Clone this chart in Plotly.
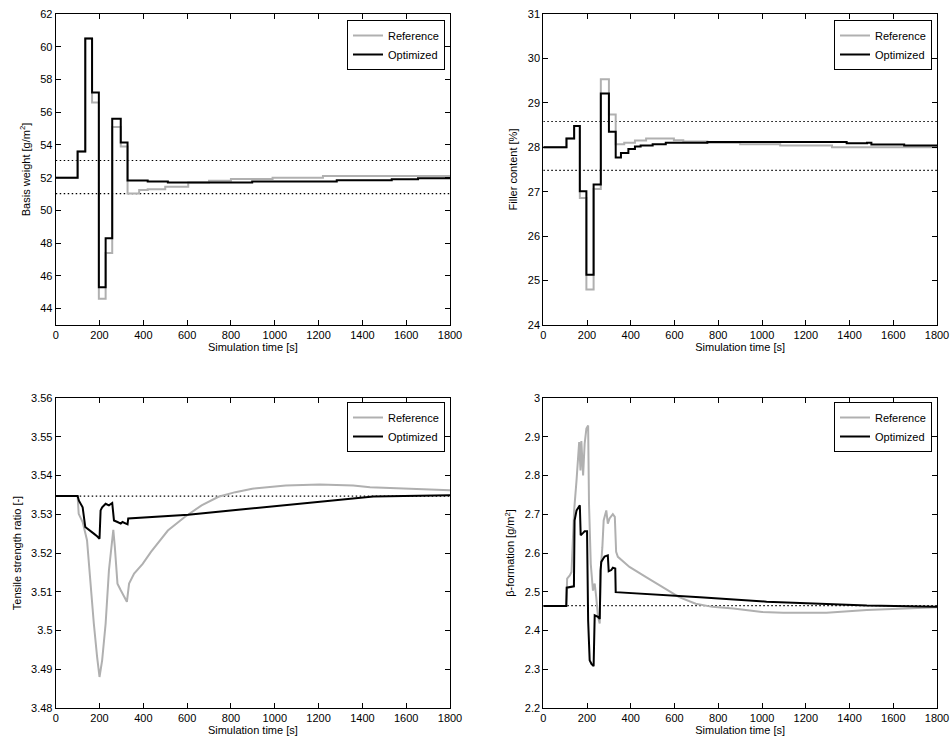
import plotly.graph_objects as go

# ---------------- DATA ----------------
x_ticks = [0, 200, 400, 600, 800, 1000, 1200, 1400, 1600, 1800]

# Basis weight (step signals)
bw_ref_t = [0, 100, 135, 166, 197, 228, 258, 297, 328, 381, 420, 500, 605, 700, 800, 990, 1220, 1800]
bw_ref_v = [52.0, 53.6, 60.5, 56.6, 44.6, 47.4, 55.1, 53.9, 51.03, 51.24, 51.3, 51.45, 51.7, 51.82, 51.92, 52.0, 52.1, 52.12]
bw_opt_t = [0, 100, 135, 166, 197, 228, 258, 297, 328, 420, 512, 897, 1283, 1534, 1654, 1800]
bw_opt_v = [52.0, 53.6, 60.5, 57.2, 45.3, 48.3, 55.6, 54.15, 51.83, 51.76, 51.7, 51.76, 51.84, 51.9, 51.96, 51.96]
bw_limits = [53.05, 51.03]
bw_ticks = [44, 46, 48, 50, 52, 54, 56, 58, 60, 62]

# Filler content (step signals)
fc_ref_t = [0, 106, 141, 167, 197, 230, 263, 300, 331, 370, 419, 470, 546, 597, 640, 750, 900, 1083, 1320, 1800]
fc_ref_v = [28.0, 28.2, 28.48, 26.86, 24.8, 27.06, 29.53, 28.74, 28.07, 28.1, 28.15, 28.2, 28.2, 28.16, 28.13, 28.1, 28.07, 28.04, 28.0, 28.0]
fc_opt_t = [0, 106, 141, 167, 197, 230, 263, 300, 331, 355, 389, 419, 445, 500, 560, 750, 1083, 1387, 1480, 1500, 1650, 1800]
fc_opt_v = [28.0, 28.2, 28.48, 27.01, 25.13, 27.16, 29.21, 28.35, 27.77, 27.87, 27.96, 28.02, 28.04, 28.07, 28.1, 28.12, 28.12, 28.09, 28.1, 28.06, 28.04, 28.04]
fc_limits = [28.58, 27.48]
fc_ticks = [24, 25, 26, 27, 28, 29, 30, 31]

# Tensile strength ratio
ts_ref_t = [0, 100, 105, 123, 143, 158, 174, 189, 200, 212, 228, 243, 254, 263, 270, 282, 297, 312, 325, 335, 358, 397, 435, 512, 589, 666, 743, 820, 897, 1050, 1205, 1358, 1435, 1800]
ts_ref_v = [3.5347, 3.5347, 3.5301, 3.528, 3.5233, 3.5121, 3.5018, 3.4932, 3.488, 3.4923, 3.5018, 3.5155, 3.5224, 3.526, 3.5215, 3.5121, 3.5104, 3.5086, 3.5074, 3.5121, 3.5147, 3.5172, 3.5203, 3.5258, 3.5293, 3.5323, 3.5345, 3.5357, 3.5366, 3.5374, 3.5377, 3.5374, 3.537, 3.5362]
ts_opt_t = [0, 100, 106, 123, 135, 158, 174, 189, 200, 205, 212, 228, 243, 258, 266, 282, 297, 305, 328, 331, 605, 1450, 1800]
ts_opt_v = [3.5347, 3.5347, 3.5335, 3.5318, 3.5267, 3.5258, 3.525, 3.5243, 3.5237, 3.531, 3.5318, 3.5327, 3.5323, 3.5329, 3.5284, 3.528, 3.5276, 3.528, 3.5274, 3.5289, 3.5299, 3.5346, 3.5349]
ts_limits = [3.5347]
ts_ticks = [3.48, 3.49, 3.50, 3.51, 3.52, 3.53, 3.54, 3.55, 3.56]
ts_ticktext = ["3.48", "3.49", "3.5", "3.51", "3.52", "3.53", "3.54", "3.55", "3.56"]

# beta-formation
bf_ref_t = [0, 105, 109, 121, 129, 141, 152, 164, 170, 174, 182, 189, 197, 205, 209, 217, 227, 235, 242, 250, 258, 262, 270, 276, 288, 295, 303, 318, 327, 333, 341, 394, 470, 545, 621, 697, 773, 869, 1000, 1097, 1295, 1479, 1800]
bf_ref_v = [2.463, 2.463, 2.534, 2.542, 2.551, 2.71, 2.788, 2.886, 2.813, 2.889, 2.8, 2.882, 2.921, 2.929, 2.727, 2.572, 2.503, 2.521, 2.486, 2.435, 2.418, 2.555, 2.615, 2.684, 2.71, 2.676, 2.689, 2.7, 2.693, 2.603, 2.59, 2.564, 2.538, 2.512, 2.486, 2.469, 2.461, 2.457, 2.448, 2.446, 2.446, 2.453, 2.46]
bf_opt_t = [0, 105, 107, 129, 140, 143, 152, 167, 171, 182, 189, 200, 205, 212, 220, 230, 235, 250, 258, 262, 265, 280, 295, 299, 311, 318, 329, 331, 394, 606, 716, 1021, 1152, 1325, 1479, 1800]
bf_opt_v = [2.463, 2.463, 2.5105, 2.512, 2.514, 2.684, 2.71, 2.723, 2.646, 2.652, 2.656, 2.656, 2.426, 2.323, 2.314, 2.308, 2.439, 2.435, 2.43, 2.555, 2.577, 2.591, 2.594, 2.553, 2.556, 2.562, 2.56, 2.499, 2.497, 2.489, 2.4857, 2.4744, 2.472, 2.467, 2.4644, 2.4614]
bf_limits = [2.464]
bf_ticks = [2.2, 2.3, 2.4, 2.5, 2.6, 2.7, 2.8, 2.9, 3.0]
bf_ticktext = ["2.2", "2.3", "2.4", "2.5", "2.6", "2.7", "2.8", "2.9", "3"]

# ---------------- FIGURE ----------------
W, H = 951, 742
FONT = "Liberation Sans, Arial, sans-serif"
GRAY = "#b0b0b0"

fig = go.Figure()

panels = [
    ("", "legend", bw_ref_t, bw_ref_v, bw_opt_t, bw_opt_v, "hv", bw_limits),
    ("2", "legend2", fc_ref_t, fc_ref_v, fc_opt_t, fc_opt_v, "hv", fc_limits),
    ("3", "legend3", ts_ref_t, ts_ref_v, ts_opt_t, ts_opt_v, "linear", ts_limits),
    ("4", "legend4", bf_ref_t, bf_ref_v, bf_opt_t, bf_opt_v, "linear", bf_limits),
]

for suf, leg, rt, rv, ot, ov, shape, lims in panels:
    xa, ya = "x" + suf, "y" + suf
    for lv in lims:
        fig.add_trace(go.Scatter(x=[0, 1800], y=[lv, lv], mode="lines", xaxis=xa, yaxis=ya,
                                 line=dict(color="black", width=1.2, dash="1.5px,2.5px"),
                                 showlegend=False, hoverinfo="skip"))
    fig.add_trace(go.Scatter(x=rt, y=rv, mode="lines", name="Reference", xaxis=xa, yaxis=ya,
                             line=dict(color=GRAY, width=2, shape=shape), legend=leg))
    fig.add_trace(go.Scatter(x=ot, y=ov, mode="lines", name="Optimized", xaxis=xa, yaxis=ya,
                             line=dict(color="black", width=2, shape=shape), legend=leg))

xl = [55.7 / W, 450 / W]
xr = [543.3 / W, 937 / W]
yt = [1 - 325 / H, 1 - 14 / H]
yb = [1 - 708 / H, 1 - 398 / H]

axis_common = dict(showline=True, linecolor="black", linewidth=1, mirror="allticks",
                   ticks="inside", ticklen=5, tickcolor="black", showgrid=False, zeroline=False,
                   tickfont=dict(family=FONT, size=11, color="black"), automargin=False)

xtitle = dict(text="Simulation time [s]", font=dict(family=FONT, size=11, color="black"), standoff=3)

def xax(domain, anchor):
    return dict(domain=domain, anchor=anchor, range=[0, 1800], tickvals=x_ticks,
                title=xtitle, **axis_common)

def yax(domain, anchor, rng, tv, tt, title):
    return dict(domain=domain, anchor=anchor, range=rng, tickvals=tv, ticktext=tt,
                title=dict(text=title, font=dict(family=FONT, size=11, color="black"), standoff=7),
                **axis_common)

legend_common = dict(bgcolor="white", bordercolor="black", borderwidth=1,
                     font=dict(family=FONT, size=11, color="black"),
                     xanchor="right", yanchor="top", itemwidth=30, tracegroupgap=0)

fig.update_layout(
    width=W, height=H,
    margin=dict(l=0, r=0, t=0, b=0),
    paper_bgcolor="white", plot_bgcolor="white",
    font=dict(family=FONT, size=11, color="black"),
    xaxis=xax(xl, "y"),
    yaxis=yax(yt, "x", [43, 62], bw_ticks, [str(v) for v in bw_ticks], "Basis weight [g/m<sup>2</sup>]"),
    xaxis2=xax(xr, "y2"),
    yaxis2=yax(yt, "x2", [24, 31], fc_ticks, [str(v) for v in fc_ticks], "Filler content [%]"),
    xaxis3=xax(xl, "y3"),
    yaxis3=yax(yb, "x3", [3.48, 3.56], ts_ticks, ts_ticktext, "Tensile strength ratio [-]"),
    xaxis4=xax(xr, "y4"),
    yaxis4=yax(yb, "x4", [2.2, 3.0], bf_ticks, bf_ticktext, "β-formation [g/m<sup>2</sup>]"),
    legend=dict(x=445 / W, y=1 - 20 / H, **legend_common),
    legend2=dict(x=932 / W, y=1 - 20 / H, **legend_common),
    legend3=dict(x=445 / W, y=1 - 402 / H, **legend_common),
    legend4=dict(x=932 / W, y=1 - 402 / H, **legend_common),
    showlegend=True,
)

fig.write_html("out.html")
